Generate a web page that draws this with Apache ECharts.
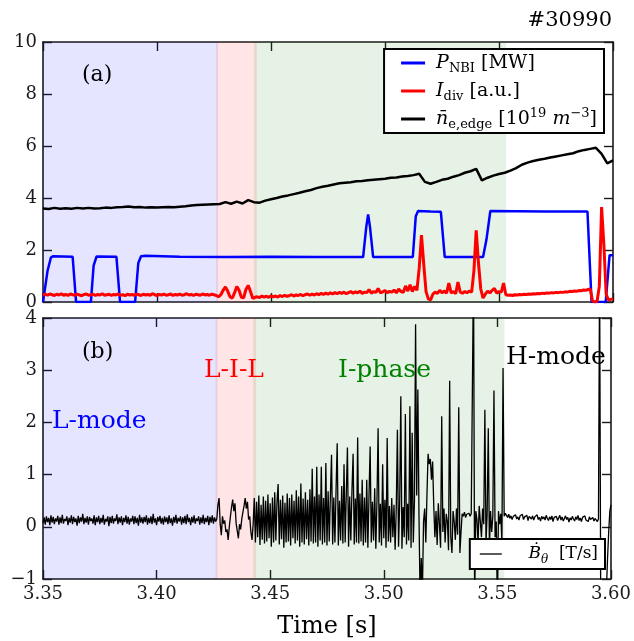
<!DOCTYPE html>
<html>
<head>
<meta charset="utf-8">
<script src="https://cdn.jsdelivr.net/npm/echarts/dist/echarts.min.js"></script>
<style>
  html, body { margin: 0; padding: 0; background: #ffffff; }
  #chart { width: 634px; height: 641px; }
</style>
</head>
<body>
<div id="chart"></div>
<script>
// ---- time axis -------------------------------------------------------------
const TIME_MIN = 3.35;
const TIME_MAX = 3.60;
const TIME_TICK = 0.05;

// ---- discharge phases (shaded spans) ----------------------------------------
const phaseNames = ['L-mode', 'L-I-L', 'I-phase'];
const phaseStart = [3.35, 3.4259, 3.4425];
const phaseEnd = [3.4268, 3.4438, 3.5531];
const phaseColors = ['rgba(0,0,255,0.1)', 'rgba(255,0,0,0.1)', 'rgba(0,128,0,0.1)'];

// ---- NBI heating power [MW], breakpoints ----------------------------------
const nbiTime = [3.3500, 3.3520, 3.3535, 3.3545, 3.3630, 3.3645, 3.3710, 3.3722, 3.3735, 3.3822,
  3.3838, 3.3904, 3.3918, 3.3930, 3.3950, 3.4100, 3.4300, 3.4500, 3.4700, 3.4904,
  3.4918, 3.4926, 3.4934, 3.4948, 3.5122, 3.5135, 3.5145, 3.5200, 3.5245, 3.5262,
  3.5430, 3.5445, 3.5462, 3.5700, 3.5888, 3.5906, 3.5968, 3.5985, 3.6000];
const nbiPower = [0.00, 1.20, 1.72, 1.76, 1.74, 0.00, 0.00, 1.40, 1.75, 1.74,
  0.00, 0.00, 1.50, 1.76, 1.78, 1.74, 1.73, 1.74, 1.73, 1.73,
  2.90, 3.37, 2.90, 1.73, 1.73, 3.30, 3.50, 3.48, 3.47, 1.73,
  1.73, 2.40, 3.50, 3.48, 3.48, 0.00, 0.00, 1.80, 1.80];

// ---- divertor current [a.u.], sampled every 1 ms from 3.350 s ---------------
const idivT0 = 3.35;
const idivStep = 0.001;
const idivValues = [
  0.27,0.30,0.26,0.31,0.28,0.25,0.30,0.27,0.32,0.26,
  0.29,0.25,0.31,0.28,0.26,0.30,0.27,0.24,0.29,0.31,
  0.26,0.28,0.30,0.25,0.29,0.27,0.32,0.26,0.28,0.30,
  0.25,0.29,0.27,0.31,0.26,0.28,0.24,0.30,0.27,0.29,
  0.26,0.31,0.28,0.25,0.30,0.27,0.29,0.26,0.32,0.28,
  0.25,0.29,0.27,0.30,0.26,0.28,0.31,0.25,0.29,0.27,
  0.30,0.26,0.28,0.32,0.27,0.29,0.25,0.30,0.28,0.26,
  0.31,0.27,0.29,0.26,0.30,0.28,0.25,
  0.20,0.28,0.45,0.58,0.42,0.20,0.15,0.35,0.60,0.45,0.18,0.16,0.48,0.64,0.40,0.14,0.18,
  0.20,0.17,0.23,0.19,0.22,0.18,0.24,0.20,0.23,0.19,
  0.25,0.21,0.26,0.22,0.24,0.28,0.23,0.27,0.25,0.29,
  0.24,0.28,0.31,0.26,0.30,0.27,0.32,0.28,0.33,0.29,
  0.34,0.30,0.35,0.31,0.36,0.32,0.37,
  0.33,0.38,0.32,0.36,0.40,0.34,0.39,0.35,0.42,0.33,
  0.38,0.36,0.48,0.34,0.40,0.37,0.52,0.35,0.39,0.44,
  0.36,0.41,0.38,0.46,0.35,0.50,0.40,0.37,0.62,0.42,
  0.66,0.40,0.60,0.45,1.30,
  2.57,1.45,0.40,0.12,0.08,0.30,0.38,0.33,0.45,0.36,
  0.42,0.34,0.73,0.35,0.40,0.32,0.77,0.38,0.34,0.40,
  0.36,0.42,0.38,1.20,2.76,1.50,0.50,0.15,0.30,0.42,
  0.35,0.45,0.52,0.34,0.40,0.38,0.73,0.28,0.26,0.27,
  0.25,0.28,0.27,0.29,0.28,0.30,0.29,0.31,0.30,0.32,
  0.31,0.33,0.32,0.34,0.33,0.35,0.34,0.36,0.35,0.37,
  0.36,0.38,0.37,0.39,0.38,0.41,0.40,0.42,0.41,0.44,
  0.43,0.46,0.45,0.48,0.50,0.05,0.00,0.02,0.60,3.65,
  2.20,0.30,0.08,0.10,0.12
];

// ---- edge line-averaged density [1e19 m^-3], every 2.5 ms from 3.350 s ------
const neT0 = 3.35;
const neStep = 0.0025;
const neValues = [
  3.60,3.58,3.62,3.59,3.61,3.59,3.62,3.60,3.62,3.60,
  3.61,3.63,3.62,3.64,3.65,3.67,3.64,3.65,3.63,3.64,
  3.63,3.64,3.65,3.64,3.66,3.68,3.71,3.73,3.74,3.75,
  3.76,3.77,3.84,3.78,3.86,3.79,3.92,3.84,3.82,3.90,
  3.95,4.00,4.06,4.10,4.15,4.20,4.26,4.31,4.38,4.43,
  4.47,4.52,4.57,4.59,4.61,4.64,4.65,4.68,4.70,4.72,
  4.74,4.78,4.79,4.83,4.85,4.88,4.93,4.62,4.55,4.62,
  4.70,4.74,4.82,4.88,4.97,5.03,5.12,4.68,4.78,4.86,
  4.92,4.97,5.05,5.15,5.28,5.36,5.42,5.47,5.51,5.56,
  5.60,5.64,5.68,5.72,5.80,5.85,5.89,5.93,5.70,5.33,
  5.45
];

// ---- poloidal field derivative dB/dt [T/s], 0.5 ms sampling, per phase -------
const bdotStep = 0.0005;
const bdotLmodeT0 = 3.35;
const bdotLmode = [
  0.07,0.18,0.04,0.20,0.09,0.17,0.03,0.22,0.08,0.19,
  0.05,0.16,0.10,0.21,0.04,0.18,0.07,0.23,0.06,0.15,
  0.11,0.20,0.03,0.17,0.08,0.22,0.05,0.19,0.09,0.16,
  0.02,0.21,0.07,0.18,0.10,0.25,0.05,0.17,0.08,0.20,
  0.04,0.19,0.11,0.16,0.06,0.22,0.03,0.18,0.09,0.21,
  0.05,0.17,0.08,0.23,0.04,0.15,0.10,0.20,0.01,0.19,
  0.07,0.21,0.06,0.16,0.11,0.24,0.05,0.18,0.08,0.20,
  0.03,0.17,0.09,0.22,0.06,0.19,0.04,0.16,0.10,0.21,
  0.05,0.20,0.07,0.17,0.02,0.23,0.08,0.18,0.06,0.19,
  0.09,0.22,0.04,0.17,0.07,0.20,0.05,0.25,0.08,0.16,
  0.03,0.19,0.10,0.21,0.06,0.17,0.04,0.20,0.09,0.18,
  0.05,0.22,0.07,0.16,0.02,0.19,0.08,0.23,0.06,0.17,
  0.10,0.20,0.04,0.18,0.07,0.21,0.05,0.24,0.09,0.17,
  0.03,0.19,0.08,0.22,0.06,0.16,0.11,0.20,0.04,0.18,
  0.07,0.23,0.05,0.17,0.09,0.21,0.03,0.19,0.08,0.22,
  0.06,0.18,0.10
];
const bdotLILT0 = 3.4265;
const bdotLIL = [
  0.15,0.42,0.55,0.05,-0.16,0.20,0.06,0.12,-0.10,-0.05,
  -0.25,0.00,0.20,0.38,0.52,0.30,0.45,0.07,0.10,-0.22,
  0.05,-0.05,0.15,0.28,0.40,0.55,0.35,0.48,0.14,0.20,
  -0.10,-0.25,0.05
];
const bdotIphaseT0 = 3.443;
const bdotIphase = [
  0.55,-0.30,0.48,-0.20,0.60,-0.35,0.42,-0.25,0.58,-0.32,
  0.50,-0.28,0.62,-0.22,0.45,-0.38,0.56,-0.30,0.66,-0.26,
  0.48,0.82,-0.34,0.52,-0.24,0.60,-0.40,0.46,-0.30,0.64,
  -0.28,0.55,-0.36,0.62,-0.22,0.50,-0.32,0.70,-0.26,0.58,
  -0.38,0.83,-0.30,0.54,-0.34,0.66,-0.24,0.52,-0.36,0.72,
  -0.28,1.11,-0.32,0.58,-0.30,1.15,-0.38,0.62,-0.26,1.15,
  -0.34,0.55,-0.30,1.22,-0.36,0.68,-0.28,0.60,1.38,-0.34,
  0.56,-0.30,0.72,1.60,-0.36,0.50,-0.26,0.78,-0.32,1.20,
  -0.30,0.62,1.52,-0.38,0.58,-0.26,0.70,1.40,-0.34,0.54,
  -0.30,1.71,-0.32,0.64,-0.28,0.90,-0.36,0.56,-0.30,0.90,
  -0.40,0.60,1.54,-0.30,0.48,-0.26,0.74,-0.42,0.50,1.89,
  -0.30,0.44,-0.36,1.20,-0.22,0.52,-0.40,1.70,-0.28,0.40,
  -0.30,0.55,-0.20,0.42,-0.44,0.36,1.86,-0.38,0.46,2.50,
  -0.42,0.38,-0.20,2.16,-0.34,0.44,-0.26,2.31,-0.40,1.80,
  -0.30,0.50,3.88,0.60,2.63,0.20,-1.40,-0.60,-1.30,0.10,
  0.35,-0.30,0.60,1.40,1.20,1.30,0.90,1.25,0.40,-0.20,
  0.30,-0.35,0.45,0.05,-0.40,2.12,-0.10,0.35,-0.30,0.25,
  0.10,-0.45,2.80,-0.20,-0.50,0.30,0.10,-0.25,0.35,-0.15,
  2.29,-0.50,-0.10,0.25,0.20,0.28,0.18,0.24,0.22,0.26,
  0.20,0.25,0.22,5.00,-1.50,0.30,0.15,-0.30,0.40,0.10,
  -0.20,0.35,0.05,2.24,-0.30,0.25,1.89,-0.40,0.30,-0.10,
  0.20,2.61,-0.20,0.10,-1.40,0.30,0.05,0.25,-0.30,3.04,0.20
];
const bdotHmodeT0 = 3.5535;
const bdotHmode = [
  0.26,0.22,0.18,0.24,0.16,0.21,0.14,0.20,0.17,0.23,
  0.15,0.19,0.13,0.21,0.18,0.24,0.14,0.19,0.16,0.22,
  0.12,0.20,0.17,0.15,0.21,0.13,0.19,0.16,0.23,0.14,
  0.18,0.11,0.20,0.15,0.19,0.13,0.22,0.16,0.12,0.19,
  0.14,0.21,0.10,0.18,0.15,0.20,0.12,0.17,0.22,0.13,
  0.19,0.11,0.16,0.21,0.14,0.18,0.09,0.17,0.13,0.20,
  0.15,0.11,0.19,0.14,0.22,0.12,0.17,0.10,0.18,0.15,
  0.21,0.13,0.16,0.10,0.19,0.14,0.12,0.18,0.11,0.16,
  0.13,0.10,0.15,5.00,-1.60,-1.60,-1.60,-1.60,-1.50,-1.20,
  -0.60,-0.10,0.30,0.42
];

// ---- helpers ---------------------------------------------------------------
function sampled(t0, step, values) {
  return values.map((v, k) => [t0 + k * step, v]);
}
function paired(times, values) {
  return times.map((t, k) => [t, values[k]]);
}

const nbiData = paired(nbiTime, nbiPower);
const idivData = sampled(idivT0, idivStep, idivValues);
const neData = sampled(neT0, neStep, neValues);
const bdotData = [].concat(
  sampled(bdotLmodeT0, bdotStep, bdotLmode),
  sampled(bdotLILT0, bdotStep, bdotLIL),
  sampled(bdotIphaseT0, bdotStep, bdotIphase),
  sampled(bdotHmodeT0, bdotStep, bdotHmode)
);

const phaseAreas = phaseNames.map((n, k) => [
  { xAxis: phaseStart[k], itemStyle: { color: phaseColors[k] } },
  { xAxis: phaseEnd[k] }
]);

const SERIF = '"DejaVu Serif", "Liberation Serif", serif';
const INK = '#1a1a1a';

const legendRich = {
  it: { fontFamily: SERIF, fontStyle: 'italic', fontSize: 19, lineHeight: 24, color: '#000' },
  sub: { fontFamily: SERIF, fontSize: 13, lineHeight: 12, verticalAlign: 'bottom', color: '#000' },
  subit: { fontFamily: SERIF, fontStyle: 'italic', fontSize: 13, lineHeight: 12, verticalAlign: 'bottom', color: '#000' },
  sup: { fontFamily: SERIF, fontSize: 13, lineHeight: 12, verticalAlign: 'top', color: '#000' }
};
const bdotLegendRich = {
  it: { fontFamily: SERIF, fontStyle: 'italic', fontSize: 17, lineHeight: 24, color: '#000' },
  subit: { fontFamily: SERIF, fontStyle: 'italic', fontSize: 12, lineHeight: 12, verticalAlign: 'bottom', color: '#000' }
};
const legendLabels = {
  'P_NBI': ' {it|P}{sub|NBI} [MW]',
  'I_div': ' {it|I}{sub|div} [a.u.]',
  'n_e,edge': ' {it|n\u0304}{sub|e,edge} [10{sup|19} {it|m}{sup|\u22123}]',
  'dB/dt': '    {it|\u1E02}{subit|\u03B8}  [T/s]'
};

function timeAxis(grid, position, labels) {
  return {
    type: 'value', gridIndex: grid, position: position,
    min: TIME_MIN, max: TIME_MAX, interval: TIME_TICK,
    axisLine: { show: true, onZero: false, lineStyle: { color: INK, width: 1.6 } },
    axisTick: { show: true, inside: true, length: 9, lineStyle: { color: INK, width: 1.4 } },
    axisLabel: {
      show: labels, margin: 6, color: INK, fontFamily: SERIF, fontSize: 18,
      formatter: v => v.toFixed(2)
    },
    splitLine: { show: false }
  };
}
function valueAxis(grid, position, min, max, interval, labels) {
  return {
    type: 'value', gridIndex: grid, position: position,
    min: min, max: max, interval: interval,
    axisLine: { show: true, onZero: false, lineStyle: { color: INK, width: 1.6 } },
    axisTick: { show: true, inside: true, length: 9, lineStyle: { color: INK, width: 1.4 } },
    axisLabel: {
      show: labels, margin: 6, color: INK, fontFamily: SERIF, fontSize: 18,
      formatter: v => String(v).replace('-', '\u2212')
    },
    splitLine: { show: false }
  };
}

const xTop = timeAxis(0, 'bottom', false);
const xBottom = timeAxis(1, 'bottom', true);
xBottom.name = 'Time [s]';
xBottom.nameLocation = 'middle';
xBottom.nameGap = 36;
xBottom.nameTextStyle = { fontFamily: SERIF, fontSize: 24, color: '#000' };

const chart = echarts.init(document.getElementById('chart'), null, { renderer: 'canvas' });

chart.setOption({
  animation: false,
  backgroundColor: '#ffffff',
  textStyle: { fontFamily: SERIF },
  grid: [
    { left: 43, top: 42, width: 570, height: 260 },
    { left: 43, top: 318, width: 570, height: 261 }
  ],
  xAxis: [xTop, xBottom, timeAxis(0, 'top', false), timeAxis(1, 'top', false)],
  yAxis: [
    valueAxis(0, 'left', 0, 10, 2, true),
    valueAxis(1, 'left', -1, 4, 1, true),
    valueAxis(0, 'right', 0, 10, 2, false),
    valueAxis(1, 'right', -1, 4, 1, false)
  ],
  legend: [
    {
      data: ['P_NBI', 'I_div', 'n_e,edge'],
      orient: 'vertical', right: 30, top: 49,
      icon: 'rect', itemWidth: 24, itemHeight: 3, itemGap: 4,
      padding: [2, 7, 2, 17],
      backgroundColor: '#ffffff', borderColor: '#000', borderWidth: 2, borderRadius: 0,
      selectedMode: false,
      textStyle: { fontFamily: SERIF, fontSize: 19, color: '#000', lineHeight: 24, rich: legendRich },
      formatter: name => legendLabels[name]
    },
    {
      data: ['dB/dt'],
      orient: 'vertical', right: 29, top: 539,
      icon: 'rect', itemWidth: 22, itemHeight: 1.3,
      padding: [3, 7, 3, 10],
      backgroundColor: '#ffffff', borderColor: '#000', borderWidth: 2, borderRadius: 0,
      selectedMode: false,
      textStyle: { fontFamily: SERIF, fontSize: 17, color: '#000', lineHeight: 24, rich: bdotLegendRich },
      formatter: name => legendLabels[name]
    }
  ],
  graphic: [
    { type: 'text', x: 612, y: 21, z: 100, style: { text: '#30990', fill: '#000', font: '21px ' + SERIF, align: 'right', verticalAlign: 'middle' } },
    { type: 'text', x: 82, y: 75, z: 100, style: { text: '(a)', fill: '#000', font: '22px ' + SERIF, align: 'left', verticalAlign: 'middle' } },
    { type: 'text', x: 82, y: 352, z: 100, style: { text: '(b)', fill: '#000', font: '22px ' + SERIF, align: 'left', verticalAlign: 'middle' } },
    { type: 'text', x: 204, y: 370, z: 100, style: { text: 'L-I-L', fill: '#ff0000', font: '25px ' + SERIF, align: 'left', verticalAlign: 'middle' } },
    { type: 'text', x: 338, y: 370, z: 100, style: { text: 'I-phase', fill: '#008000', font: '25px ' + SERIF, align: 'left', verticalAlign: 'middle' } },
    { type: 'text', x: 506, y: 357, z: 100, style: { text: 'H-mode', fill: '#000', font: '25px ' + SERIF, align: 'left', verticalAlign: 'middle' } },
    { type: 'text', x: 52, y: 421, z: 100, style: { text: 'L-mode', fill: '#0000ff', font: '25px ' + SERIF, align: 'left', verticalAlign: 'middle' } }
  ],
  series: [
    {
      name: 'phases-a', type: 'line', xAxisIndex: 0, yAxisIndex: 0, data: [], z: 1, silent: true,
      markArea: { silent: true, data: phaseAreas }
    },
    {
      name: 'phases-b', type: 'line', xAxisIndex: 1, yAxisIndex: 1, data: [], z: 1, silent: true,
      markArea: { silent: true, data: phaseAreas }
    },
    {
      name: 'P_NBI', type: 'line', xAxisIndex: 0, yAxisIndex: 0, data: nbiData, z: 3,
      symbol: 'none', color: '#0000ff', lineStyle: { color: '#0000ff', width: 2.5 }
    },
    {
      name: 'I_div', type: 'line', xAxisIndex: 0, yAxisIndex: 0, data: idivData, z: 4,
      symbol: 'none', color: '#ff0000', lineStyle: { color: '#ff0000', width: 3 }
    },
    {
      name: 'n_e,edge', type: 'line', xAxisIndex: 0, yAxisIndex: 0, data: neData, z: 5,
      symbol: 'none', color: '#000000', lineStyle: { color: '#000000', width: 2.5 }
    },
    {
      name: 'dB/dt', type: 'line', xAxisIndex: 1, yAxisIndex: 1, data: bdotData, z: 3,
      symbol: 'none', color: '#000000', lineStyle: { color: '#000000', width: 1.3 }
    }
  ]
});
</script>
</body>
</html>
